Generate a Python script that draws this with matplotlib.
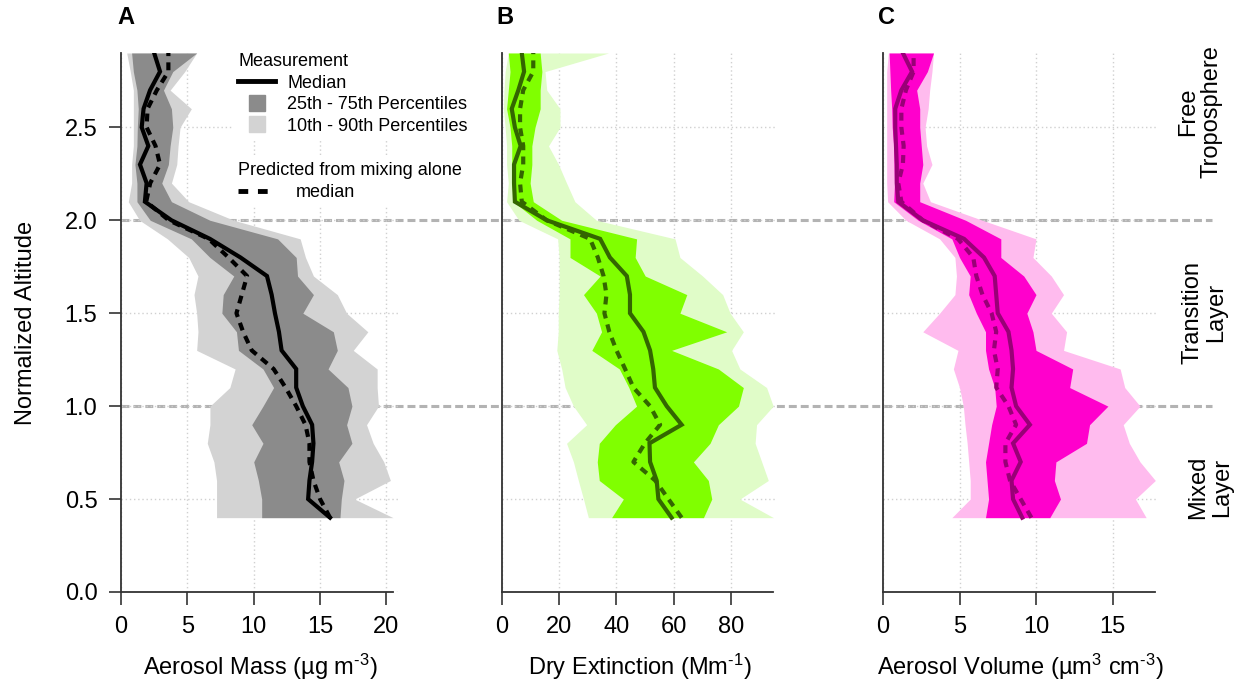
import matplotlib
matplotlib.use("Agg")
import matplotlib.pyplot as plt
from matplotlib.lines import Line2D
from matplotlib.transforms import blended_transform_factory

plt.rcParams['font.family'] = ['Liberation Sans', 'DejaVu Sans']
plt.rcParams['mathtext.fontset'] = 'custom'
plt.rcParams['mathtext.rm'] = 'Liberation Sans'
plt.rcParams['mathtext.it'] = 'Liberation Sans'
plt.rcParams['mathtext.default'] = 'regular'

# normalized altitude levels (bottom -> top)
alt = [0.4, 0.5, 0.6, 0.7, 0.8, 0.9, 1.0, 1.1, 1.2, 1.3, 1.4, 1.5, 1.6,
       1.7, 1.8, 1.9, 2.0, 2.1, 2.2, 2.3, 2.4, 2.5, 2.6, 2.7, 2.8, 2.9]

# A - aerosol mass (ug m-3)
mass_p10 = [7.2, 7.2, 7.2, 7.0, 6.5, 6.7, 6.7, 8.2, 8.6, 5.7, 5.8, 5.7, 5.5,
            5.8, 5.1, 3.5, 1.4, 0.55, 0.8, 0.8, 0.93, 0.93, 0.93, 0.93, 0.7, 0.43]
mass_p25 = [10.6, 10.6, 10.35, 10.0, 10.7, 9.85, 10.7, 11.5, 10.7, 8.85, 8.7, 7.6, 7.7,
            8.5, 6.7, 5.3, 2.2, 1.2, 1.2, 1.05, 1.2, 1.23, 1.3, 1.2, 0.93, 0.8]
mass_med = [15.75, 14.1, 14.2, 14.4, 14.5, 14.4, 13.7, 13.2, 13.2, 12.1, 11.9, 11.6, 11.35,
            11.0, 9.0, 6.7, 3.8, 1.8, 1.93, 1.43, 2.06, 1.56, 1.7, 2.19, 2.94, 2.5]
mass_pred = [15.75, 15.0, 14.5, 14.2, 14.2, 13.9, 13.2, 12.4, 11.5, 9.85, 9.2, 8.7, 9.1,
             9.5, 8.1, 6.6, 3.6, 1.9, 2.2, 2.94, 2.6, 1.93, 2.0, 2.7, 3.57, 3.57]
mass_p75 = [16.5, 16.6, 16.8, 16.4, 17.4, 17.0, 17.4, 17.1, 15.6, 16.3, 16.0, 13.7, 14.5,
            13.3, 13.2, 11.8, 6.7, 3.8, 3.07, 3.57, 3.7, 3.9, 3.8, 3.2, 3.9, 5.7]
mass_p90 = [20.5, 17.6, 20.3, 19.8, 19.0, 18.5, 19.4, 19.3, 19.3, 17.5, 18.6, 17.0, 16.3,
            14.5, 13.9, 13.5, 8.5, 5.1, 3.8, 4.2, 4.3, 4.45, 5.3, 3.7, 4.8, 5.7]

# B - dry extinction (Mm-1)
ext_p10 = [30.2, 28.5, 26.7, 25.0, 22.6, 29.6, 25.0, 22.1, 20.9, 19.2, 19.7, 19.7, 20.0,
           20.0, 20.0, 19.5, 6.0, 1.7, 2.3, 1.7, 1.7, 1.2, 0.6, 0.8, 1.2, 2.3]
ext_p25 = [38.3, 42.4, 34.0, 33.3, 34.0, 39.6, 47.0, 44.3, 41.0, 31.4, 34.8, 33.0, 28.5,
           34.3, 23.8, 23.8, 12.2, 4.1, 3.5, 3.5, 3.5, 2.9, 1.7, 2.3, 2.9, 2.3]
ext_med = [59.2, 54.6, 54.0, 51.7, 51.5, 62.7, 57.5, 53.4, 52.8, 51.7, 49.4, 44.7, 44.7,
           43.6, 37.7, 34.3, 15.7, 4.6, 4.3, 4.3, 6.6, 4.6, 3.5, 5.8, 7.8, 7.0]
ext_pred = [62.7, 58.1, 53.5, 45.9, 49.9, 55.2, 51.7, 45.9, 43.0, 40.0, 37.5, 35.8, 36.5,
            35.5, 33.5, 30.8, 15.7, 7.0, 6.4, 7.5, 7.5, 6.4, 6.4, 7.5, 11.0, 11.0]
ext_p75 = [70.3, 73.2, 72.0, 66.8, 72.6, 75.5, 82.5, 84.2, 75.5, 59.2, 78.4, 62.1, 64.5,
           50.0, 46.5, 47.0, 20.9, 11.0, 9.9, 10.5, 10.5, 11.6, 13.4, 13.4, 14.0, 13.4]
ext_p90 = [94.7, 83.0, 92.9, 90.6, 88.3, 88.8, 94.6, 92.3, 83.0, 80.1, 84.2, 79.6, 77.0,
           70.0, 62.1, 60.4, 33.0, 25.5, 22.6, 19.8, 16.3, 20.3, 20.3, 15.7, 15.1, 37.2]

# C - aerosol volume (um3 cm-3)
vol_p10 = [4.5, 5.7, 5.7, 5.6, 5.5, 5.36, 5.25, 5.0, 4.6, 4.9, 2.6, 3.7, 4.7,
           4.8, 4.7, 3.7, 1.5, 0.3, 0.24, 0.24, 0.24, 0.24, 0.24, 0.24, 0.24, 0.35]
vol_p25 = [6.7, 6.9, 6.8, 6.7, 6.9, 7.1, 7.4, 7.3, 6.9, 6.7, 6.7, 6.1, 5.6,
           5.7, 5.0, 4.5, 2.3, 0.7, 0.75, 0.72, 0.7, 0.6, 0.57, 0.5, 0.45, 0.4]
vol_med = [9.1, 8.5, 8.4, 9.0, 8.5, 9.6, 8.7, 8.4, 8.5, 8.4, 8.2, 7.5, 7.4,
           7.3, 6.6, 5.3, 2.6, 1.0, 0.9, 0.9, 0.85, 0.8, 0.8, 1.2, 1.9, 1.3]
vol_pred = [9.7, 9.0, 8.3, 8.0, 8.0, 8.7, 8.2, 7.4, 7.5, 7.25, 7.4, 7.1, 6.5,
            6.1, 5.9, 4.9, 2.6, 1.2, 1.0, 1.3, 1.35, 1.2, 1.2, 1.5, 2.0, 2.0]
vol_p75 = [10.9, 11.6, 11.2, 11.3, 13.3, 13.5, 14.7, 12.2, 12.4, 10.0, 9.8, 9.4, 10.0,
           9.2, 7.7, 7.7, 5.4, 2.4, 2.4, 2.6, 2.5, 2.4, 2.4, 2.2, 2.9, 3.3]
vol_p90 = [17.2, 16.5, 17.8, 16.8, 16.1, 15.7, 16.8, 15.8, 15.5, 11.8, 12.0, 11.0, 11.8,
           11.0, 9.8, 10.0, 6.5, 3.1, 2.6, 3.2, 2.85, 2.75, 2.95, 3.05, 3.2, 3.3]

yticks = [0.0, 0.5, 1.0, 1.5, 2.0, 2.5]
layer_lines = [1.0, 2.0]

W, H = 1247, 691
fig = plt.figure(figsize=(W / 100, H / 100), dpi=100)
dash = (1.9, 1.5)


def box(x0, x1, y0=53, y1=592):
    return [x0 / W, 1 - y1 / H, (x1 - x0) / W, (y1 - y0) / H]


def panel(rect, p10, p25, med, pred, p75, p90, light, dark, line, xmax, xticks, xlabel):
    ax = fig.add_axes(rect)
    ax.set_facecolor('none')
    ax.fill_betweenx(alt, p10, p90, color=light, lw=0, zorder=2)
    ax.fill_betweenx(alt, p25, p75, color=dark, lw=0, zorder=3)
    ax.plot(med, alt, color=line, lw=3, zorder=4, solid_joinstyle='miter')
    ax.plot(pred, alt, color=line, lw=3, dashes=dash, zorder=5)
    ax.set_xlim(0, xmax)
    ax.set_ylim(0, 2.9)
    ax.set_xticks(xticks)
    ax.set_yticks(yticks)
    ax.grid(True, color='#d0d0d0', ls=(0, (1, 2)), lw=1, zorder=1)
    for s in ['top', 'right']:
        ax.spines[s].set_visible(False)
    for s in ['left', 'bottom']:
        ax.spines[s].set_color('#333333')
        ax.spines[s].set_linewidth(1.3)
    ax.spines['bottom'].set_bounds(0, max(p90))
    ax.tick_params(direction='out', length=9, width=1.2, color='#333333',
                   labelsize=17, pad=8)
    ax.tick_params(axis='y', left=False, labelleft=False)
    ax.set_xlabel(xlabel, fontsize=17, labelpad=10)
    return ax


axA = panel(box(121, 399.7), mass_p10, mass_p25, mass_med, mass_pred, mass_p75, mass_p90,
            '#d3d3d3', '#8b8b8b', 'black', 21, [0, 5, 10, 15, 20],
            r'Aerosol Mass (µg m$^{\text{-3}}$)')
axB = panel(box(501.7, 777.2), ext_p10, ext_p25, ext_med, ext_pred, ext_p75, ext_p90,
            '#e0fcc8', '#80ff00', '#336600', 96, [0, 20, 40, 60, 80],
            r'Dry Extinction (Mm$^{\text{-1}}$)')
axC = panel(box(883, 1158.4), vol_p10, vol_p25, vol_med, vol_pred, vol_p75, vol_p90,
            '#ffbbee', '#ff00cc', '#990077', 18, [0, 5, 10, 15],
            r'Aerosol Volume (µm$^{3}$ cm$^{\text{-3}}$)')

axA.tick_params(axis='y', left=True, labelleft=True)
axA.set_yticklabels(['%.1f' % v for v in yticks])
axA.set_ylabel('Normalized Altitude', fontsize=17, labelpad=20)

# layer boundaries across all panels
tr = blended_transform_factory(fig.transFigure, axA.transData)
for yv in layer_lines:
    fig.add_artist(Line2D([121 / W, 1212 / W], [yv, yv], transform=tr, color='#b3b3b3',
                          lw=2.2, dashes=(2.6, 1.3), zorder=-1))

# legend
h1 = [Line2D([], [], color='black', lw=3.5),
      Line2D([], [], color='#8b8b8b', marker='s', ls='none', ms=12),
      Line2D([], [], color='#d3d3d3', marker='s', ls='none', ms=12)]
leg1 = axA.legend(h1, ['Median', '25th - 75th Percentiles', '10th - 90th Percentiles'],
                  title='Measurement', alignment='left', fontsize=13, title_fontsize=13,
                  loc='upper left', bbox_to_anchor=(0.402, 1.01), frameon=True,
                  facecolor='white', edgecolor='none', framealpha=1, fancybox=False,
                  borderpad=0.3, handlelength=2.0, handletextpad=0.7, labelspacing=0.25,
                  borderaxespad=0)
leg1.set_zorder(10)
axA.add_artist(leg1)
h2 = [Line2D([], [], color='black', lw=3.5, dashes=(2.0, 2.0))]
leg2 = axA.legend(h2, ['median'], title='Predicted from mixing alone', alignment='left',
                  fontsize=13, title_fontsize=13, loc='upper left',
                  bbox_to_anchor=(0.402, 0.807), frameon=True, facecolor='white',
                  edgecolor='none', framealpha=1, fancybox=False, borderpad=0.3,
                  handlelength=2.0, handletextpad=1.2, labelspacing=0.25, borderaxespad=0)
leg2.set_zorder(10)

# panel letters
for lab, xp in [('A', 117), ('B', 496), ('C', 878)]:
    fig.text(xp / W, 1 - 18 / H, lab, fontsize=17, fontweight='bold', ha='left', va='center')

# layer names on the right
for txt, xp, yp in [('Free\nTroposphere', 1200, 112), ('Transition\nLayer', 1204, 312),
                    ('Mixed\nLayer', 1210, 487)]:
    fig.text(xp / W, 1 - yp / H, txt, fontsize=17, rotation=90, ha='center', va='center',
             multialignment='center', linespacing=1.1)

fig.savefig('out.png', dpi=100)
